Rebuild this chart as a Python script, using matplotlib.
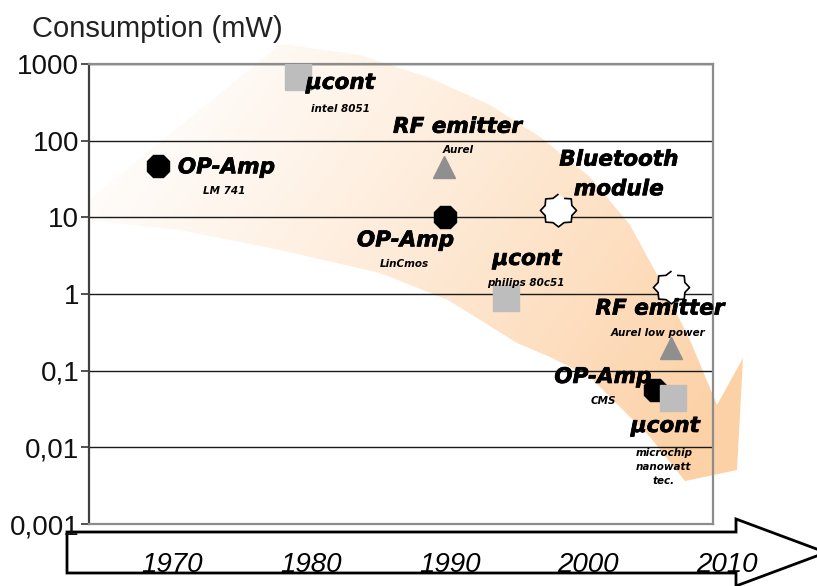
import matplotlib
matplotlib.use('Agg')
import matplotlib.pyplot as plt
import numpy as np
from matplotlib.patches import Polygon
from matplotlib.path import Path
from matplotlib.transforms import blended_transform_factory
from matplotlib.ticker import FixedLocator, FixedFormatter, NullLocator
import matplotlib.patheffects as pe

# --- power consumption of typical parts (mW) by year of introduction ---
opamp_year = [1969.0, 1989.7, 2004.8]
opamp_mw = [47, 10, 0.056]
opamp_part = ['LM 741', 'LinCmos', 'CMS']

ucont_year = [1979.1, 1994.1, 2006.1]
ucont_mw = [680, 0.89, 0.044]
ucont_part = ['intel 8051', 'philips 80c51', 'microchip\nnanowatt\ntec.']

rf_year = [1989.6, 2006.0]
rf_mw = [45, 0.2]
rf_part = ['Aurel', 'Aurel low power']

bt_year = [1997.8, 2006.0]
bt_mw = [12.5, 1.22]

y_ticks = [0.001, 0.01, 0.1, 1, 10, 100, 1000]
y_ticklabels = ['0,001', '0,01', '0,1', '1', '10', '100', '1000']
decade_years = [1970, 1980, 1990, 2000, 2010]

# label offsets from each marker, in pixels (name, part)
opamp_off = [((68, -1.5), (66, -25.5)), ((-40, -23), (-41, -47)), ((-52, 13), (-51.5, -11))]
ucont_off = [((42, -6), (42.5, -32)), ((20.5, 39), (19, 15)), ((-7.5, -28), (-9, -69))]
rf_off = [((13.5, 40.5), (14, 17.5)), ((-11.5, 39), (-13.5, 15))]

W, H = 817, 586
fig = plt.figure(figsize=(W / 100, H / 100), dpi=100)

# background layer in pixel units: trend swoosh and the time arrow
bg = fig.add_axes([0, 0, 1, 1], zorder=0)
bg.set_xlim(0, W)
bg.set_ylim(H, 0)
bg.axis('off')

swoosh = [(89, 200), (281, 44), (360, 55), (430, 78), (490, 105), (540, 137),
          (590, 177), (630, 225), (660, 280), (690, 340), (717, 405), (743, 358),
          (737, 470), (685, 481), (650, 437), (630, 417), (590, 377), (550, 357),
          (517, 343), (448, 300), (380, 273), (280, 250), (180, 230), (89, 220)]
gx, gy = np.meshgrid(np.arange(W) + 0.5, np.arange(H) + 0.5)
d = np.array([550.0, 420.0])
t = ((gx - 150) * d[0] + (gy - 20) * d[1]) / (d @ d)
t = np.clip(t, 0, 1) ** 1.15
orange = np.array([0.99, 0.82, 0.65])
rgb = 1 - t[..., None] * (1 - orange)
img = bg.imshow(rgb, extent=[0, W, H, 0], aspect='auto', zorder=1)
clip = Polygon(swoosh, closed=True, facecolor='none', edgecolor='none')
bg.add_patch(clip)
img.set_clip_path(clip)

timeline = [(67, 532), (736, 532), (736, 519), (826, 552.5), (736, 586),
            (736, 573), (67, 573)]
bg.add_patch(Polygon(timeline, closed=True, facecolor='white', edgecolor='black',
                     linewidth=2, zorder=2, clip_on=False))

# main log axes
ax = fig.add_axes([89 / W, 62 / H, 624 / W, 460 / H], zorder=1)
ax.set_facecolor('none')
ax.set_yscale('log')
ax.set_ylim(0.001, 1000)
ax.set_xlim(1964, 2009)

ax.yaxis.set_major_locator(FixedLocator(y_ticks))
ax.yaxis.set_major_formatter(FixedFormatter(y_ticklabels))
ax.yaxis.set_minor_locator(NullLocator())
ax.tick_params(axis='y', length=6, width=1.2, pad=1, labelsize=20, color='#333333')
for lab in ax.get_yticklabels():
    lab.set_fontfamily('Liberation Sans')
    lab.set_color('#111111')
ax.tick_params(axis='x', bottom=False, labelbottom=False)

ax.grid(axis='y', color='#1a1a1a', linewidth=1)
ax.set_axisbelow(True)
for side in ['top', 'right', 'bottom']:
    ax.spines[side].set_color('#8c8c8c')
    ax.spines[side].set_linewidth(1.6)
ax.spines['left'].set_color('#404040')
ax.spines['left'].set_linewidth(1.6)

# markers
ax.plot(opamp_year, opamp_mw, ls='none', marker='8', ms=17, color='black', zorder=3)
ax.plot(ucont_year, ucont_mw, ls='none', marker='s', ms=18.5, color='#bdbdbd', zorder=4)
ax.plot(rf_year, rf_mw, ls='none', marker='^', ms=16.5, color='#8f8f8f', zorder=3)

ang = np.pi / 2 + np.arange(16) * np.pi / 8
rad = np.where(np.arange(16) % 2 == 0, 1.0, 0.8)
star = Path(np.column_stack([rad * np.cos(ang) * 1.1, rad * np.sin(ang)]))
ax.plot(bt_year, bt_mw, ls='none', marker=star, ms=26, mfc='white', mec='black',
        mew=1.2, zorder=3)

name_kw = dict(fontfamily='DejaVu Sans', fontweight='bold', fontstyle='italic',
               fontsize=15.5, ha='center', va='center', zorder=5,
               textcoords='offset pixels', annotation_clip=False,
               path_effects=[pe.withStroke(linewidth=0.5, foreground='black')])
part_kw = dict(fontfamily='DejaVu Sans', fontweight='bold', fontstyle='italic',
               fontsize=7.5, ha='center', va='center', zorder=5, linespacing=1.55,
               textcoords='offset pixels', annotation_clip=False)


def label_series(name, years, values, parts, offsets):
    for x, y, part, (o_name, o_part) in zip(years, values, parts, offsets):
        ax.annotate(name, (x, y), xytext=o_name, **name_kw)
        ax.annotate(part, (x, y), xytext=o_part, **part_kw)


label_series('OP-Amp', opamp_year, opamp_mw, opamp_part, opamp_off)
label_series('µcont', ucont_year, ucont_mw, ucont_part, ucont_off)
label_series('RF emitter', rf_year, rf_mw, rf_part, rf_off)
ax.annotate('Bluetooth\nmodule', (bt_year[0], bt_mw[0]), xytext=(61, 35.5),
            linespacing=1.6, **name_kw)

# year labels on the time arrow
trans = blended_transform_factory(ax.transData, ax.transAxes)
for yr in decade_years:
    ax.text(yr, -0.105, str(yr), transform=trans, ha='center', va='baseline',
            fontsize=20, fontstyle='italic', fontfamily='Liberation Sans',
            color='black', clip_on=False, zorder=5)

fig.text(32 / W, 1 - 37 / H, 'Consumption (mW)', fontsize=21,
         fontfamily='Liberation Sans', color='#222222', va='baseline', ha='left')

fig.savefig('out.png', dpi=100)
